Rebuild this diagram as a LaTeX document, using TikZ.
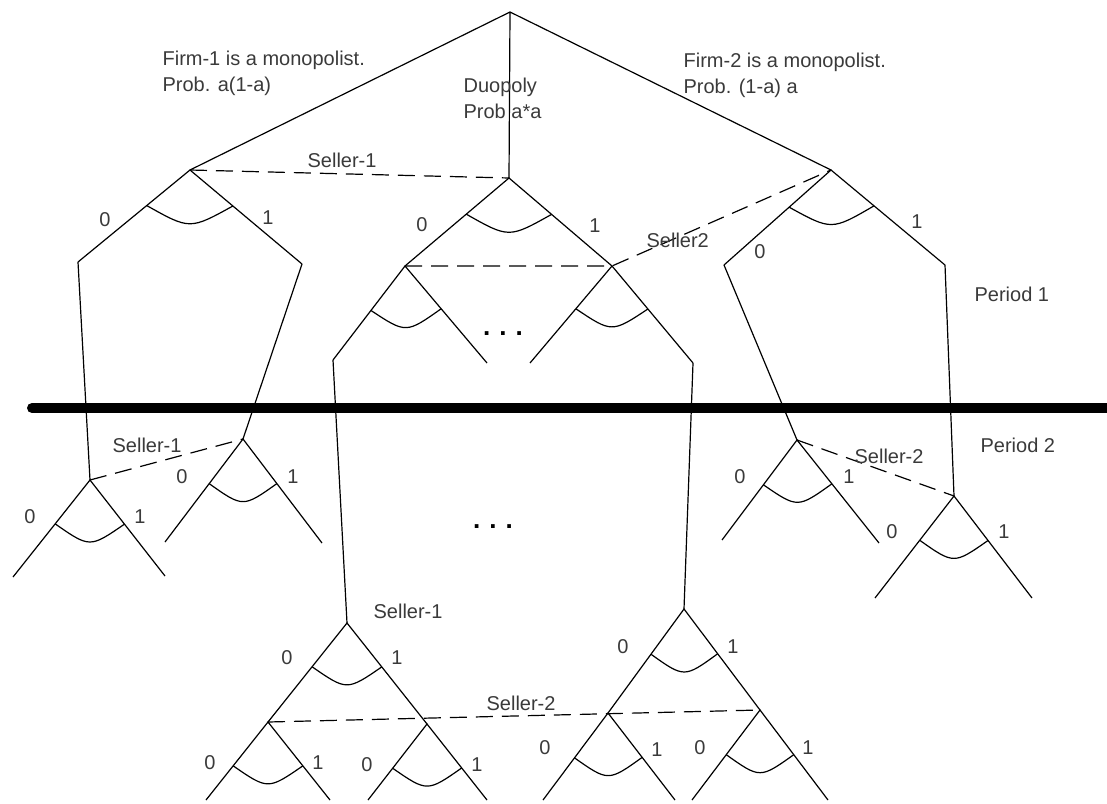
\documentclass[tikz,border=0pt]{standalone}
\usepackage{fontspec}
\setmainfont{Liberation Sans}
\usetikzlibrary{calc}
\definecolor{inkgray}{RGB}{58,58,58}
\begin{document}
\begin{tikzpicture}[x=1pt,y=-1pt,line width=1.2pt,
  infoset/.style={dash pattern=on 17pt off 9pt},
  txt/.style={text=inkgray,font=\fontsize{20}{26}\selectfont,inner sep=0pt},
  dotrow/.style={font=\bfseries\fontsize{26}{30}\selectfont,inner sep=0pt}]
  \useasboundingbox (0,0) rectangle (1107,803);
  % period 1 moves
  \coordinate (root) at (510,12);
  \coordinate (fa) at (190,170);
  \coordinate (du) at (509,178);
  \coordinate (fb) at (831,170);
  \coordinate (fa0) at (78,262);
  \coordinate (fa1) at (302,264);
  \coordinate (du0) at (405,266);
  \coordinate (du1) at (612,266);
  \coordinate (fb0) at (724,265);
  \coordinate (fb1) at (945,265);
  \coordinate (du00) at (333,360);
  \coordinate (du01) at (487,363);
  \coordinate (du10) at (530,363);
  \coordinate (du11) at (693,363);
  % period 2 moves
  \coordinate (la) at (90,480);
  \coordinate (ma) at (243,439);
  \coordinate (na) at (797,440);
  \coordinate (pa) at (954,496);
  \coordinate (la0) at (13,577);
  \coordinate (la1) at (165,576);
  \coordinate (ma0) at (165,542);
  \coordinate (ma1) at (322,543);
  \coordinate (na0) at (722,540);
  \coordinate (na1) at (879,543);
  \coordinate (pa0) at (875,598);
  \coordinate (pa1) at (1032,598);
  \coordinate (sb) at (347,623);
  \coordinate (sc) at (684,609);
  \coordinate (sb0) at (268,722);
  \coordinate (sb1) at (427,724);
  \coordinate (sc0) at (608,713);
  \coordinate (sc1) at (760,710);
  \coordinate (sb00) at (206,800);
  \coordinate (sb01) at (330,800);
  \coordinate (sb10) at (368,800);
  \coordinate (sb11) at (487,800);
  \coordinate (sc00) at (543,800);
  \coordinate (sc01) at (675,800);
  \coordinate (sc10) at (692,800);
  \coordinate (sc11) at (828,800);
  % branches and choice arcs
  \draw (fa) -- (root) -- (fb) (root) -- (du);
  \foreach \n in {fa,du,fb,du0,du1,la,ma,na,pa,sb,sb0,sb1,sc,sc0,sc1}{
    \draw (\n0) -- (\n) -- (\n1);
    \path ($(\n)!56pt!(\n0)$) coordinate (al) ($(\n)!56pt!(\n1)$) coordinate (ar);
    \draw (al) .. controls ($(al)!0.5!(ar)+(0,24)$) .. (ar);
  }
  \draw (fa0) -- (la) (fa1) -- (ma) (du00) -- (sb) (du11) -- (sc) (fb0) -- (na) (fb1) -- (pa);
  % information sets
  \draw[infoset] (fa) -- (du) (du0) -- (du1) -- (fb) (la) -- (ma) (na) -- (pa) (sb0) -- (sc1);
  % period divider
  \coordinate (cutL) at (32,408);
  \coordinate (cutR) at (1112,408);
  \draw[line width=10pt,line cap=round] (cutL) -- (cutR);
  % texts
  \node[txt,anchor=north west,align=left] (firmone) at (162,50) {Firm-1 is a monopolist.\\Prob. a(1-a)};
  \node[txt,anchor=north west,align=left] (duo) at (463,77) {Duopoly\\Prob a*a};
  \node[txt,anchor=north west,align=left] (firmtwo) at (683,52) {Firm-2 is a monopolist.\\Prob. (1-a) a};
  \node[txt,anchor=base west] (selA) at (307,167) {Seller-1};
  \node[txt,anchor=base west] (selB) at (646,247) {Seller2};
  \node[txt,anchor=base west] (selC) at (112,452) {Seller-1};
  \node[txt,anchor=base west] (selD) at (854,463) {Seller-2};
  \node[txt,anchor=base west] (selE) at (373,618) {Seller-1};
  \node[txt,anchor=base west] (selF) at (486,710) {Seller-2};
  \node[txt,anchor=base west] (perA) at (974,301) {Period 1};
  \node[txt,anchor=base west] (perB) at (980,452) {Period 2};
  \node[dotrow] (dotsA) at (503,334) {.\hspace{9pt}.\hspace{9pt}.};
  \node[dotrow] (dotsB) at (493,527) {.\hspace{9pt}.\hspace{9pt}.};
  \foreach \t/\x/\y [count=\k] in {0/105/220,1/268/218,0/422/225,1/595/226,0/760/252,1/917/222,
      0/30/517,1/140/517,0/182/477,1/293/477,0/740/477,1/849/477,0/892/532,1/1004/532,
      0/287/658,1/397/658,0/210/763,1/318/763,0/367/765,1/477/765,
      0/623/647,1/733/647,0/545/748,1/657/750,0/700/748,1/808/748}
    \node[txt] (num\k) at (\x,\y) {\t};
\end{tikzpicture}
\end{document}
